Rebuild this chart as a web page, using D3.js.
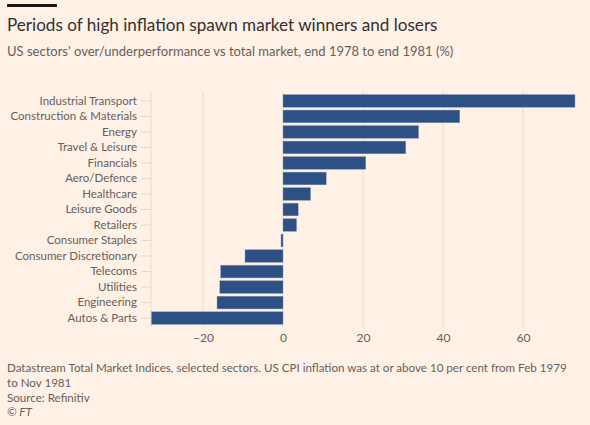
<!DOCTYPE html>
<html lang="en">
<head>
  <meta charset="UTF-8">
  <title>Periods of high inflation spawn market winners and losers</title>
  <script src="https://d3js.org/d3.v7.min.js"></script>
  <style>
    body {
      margin: 0;
      padding: 0;
      background: #fff1e5;
      font-family: Lato, "Open Sans", sans-serif;
    }
    svg text { font-family: Lato, "Open Sans", sans-serif; }
  </style>
</head>
<body>
  <div id="chart"></div>
  <script>
    // sectors, top to bottom
    const sectors = [
      "Industrial Transport", "Construction & Materials", "Energy", "Travel & Leisure",
      "Financials", "Aero/Defence", "Healthcare", "Leisure Goods", "Retailers",
      "Consumer Staples", "Consumer Discretionary", "Telecoms", "Utilities",
      "Engineering", "Autos & Parts"
    ];
    // over/underperformance vs total market (%)
    const perf = [73, 44.2, 33.9, 30.7, 20.7, 10.8, 6.9, 3.8, 3.4, -0.5, -9.5, -15.6, -15.8, -16.5, -32.9];
    const xTicks = [-20, 0, 20, 40, 60];

    const width = 590, height = 425;
    const svg = d3.select("#chart").append("svg")
      .attr("width", width)
      .attr("height", height);

    // header
    svg.append("rect").attr("x", 7).attr("y", 4).attr("width", 50).attr("height", 3).attr("fill", "#1a1817");
    svg.append("text").attr("x", 7).attr("y", 30.5)
      .attr("font-size", 17.1).attr("fill", "#33302e")
      .text("Periods of high inflation spawn market winners and losers");
    svg.append("text").attr("x", 7).attr("y", 56)
      .attr("font-size", 13).attr("fill", "#66605c")
      .text("US sectors' over/underperformance vs total market, end 1978 to end 1981 (%)");

    const x = d3.scaleLinear().domain([-33, 73]).range([151, 575]);
    const y = d3.scaleBand().domain(sectors).range([93, 326]).paddingInner(0.18).paddingOuter(0.1);

    // gridlines
    svg.append("g").selectAll("line")
      .data([-33].concat(xTicks))
      .join("line")
      .attr("x1", d => x(d)).attr("x2", d => x(d))
      .attr("y1", 91).attr("y2", 327)
      .attr("stroke", "#e9dccf").attr("stroke-width", 1);

    // x axis labels
    const xAxis = d3.axisBottom(x).tickValues(xTicks).tickSize(0).tickPadding(0);
    svg.append("g")
      .attr("transform", "translate(0,331)")
      .call(xAxis)
      .call(g => g.select(".domain").remove())
      .call(g => g.selectAll("text").attr("font-size", 12).attr("fill", "#66605c").attr("dy", "0.9em"));

    // y axis
    const yAxis = d3.axisLeft(y).tickSize(10).tickPadding(4);
    svg.append("g")
      .attr("transform", "translate(151,0)")
      .call(yAxis)
      .call(g => g.select(".domain").remove())
      .call(g => g.selectAll(".tick line").attr("stroke", "#e6d9cc"))
      .call(g => g.selectAll("text").attr("font-size", 11.5).attr("fill", "#66605c"));

    // bars
    svg.append("g").selectAll("rect")
      .data(sectors.map((s, i) => ({ s, v: perf[i] })))
      .join("rect")
      .attr("x", d => x(Math.min(0, d.v)))
      .attr("width", d => Math.abs(x(d.v) - x(0)))
      .attr("y", d => y(d.s))
      .attr("height", y.bandwidth())
      .attr("fill", "#2d5185")
      .attr("stroke", "#8aa0c0")
      .attr("stroke-width", 0.4);

    // footer
    const foot = [
      { t: "Datastream Total Market Indices, selected sectors. US CPI inflation was at or above 10 per cent from Feb 1979", y: 372 },
      { t: "to Nov 1981", y: 387 },
      { t: "Source: Refinitiv", y: 401.5 }
    ];
    svg.append("g").selectAll("text")
      .data(foot)
      .join("text")
      .attr("x", 7).attr("y", d => d.y)
      .attr("font-size", 11.6).attr("fill", "#66605c")
      .text(d => d.t);
    svg.append("text").attr("x", 7).attr("y", 416)
      .attr("font-size", 11.6).attr("font-style", "italic").attr("fill", "#66605c")
      .text("© FT");
  </script>
</body>
</html>
